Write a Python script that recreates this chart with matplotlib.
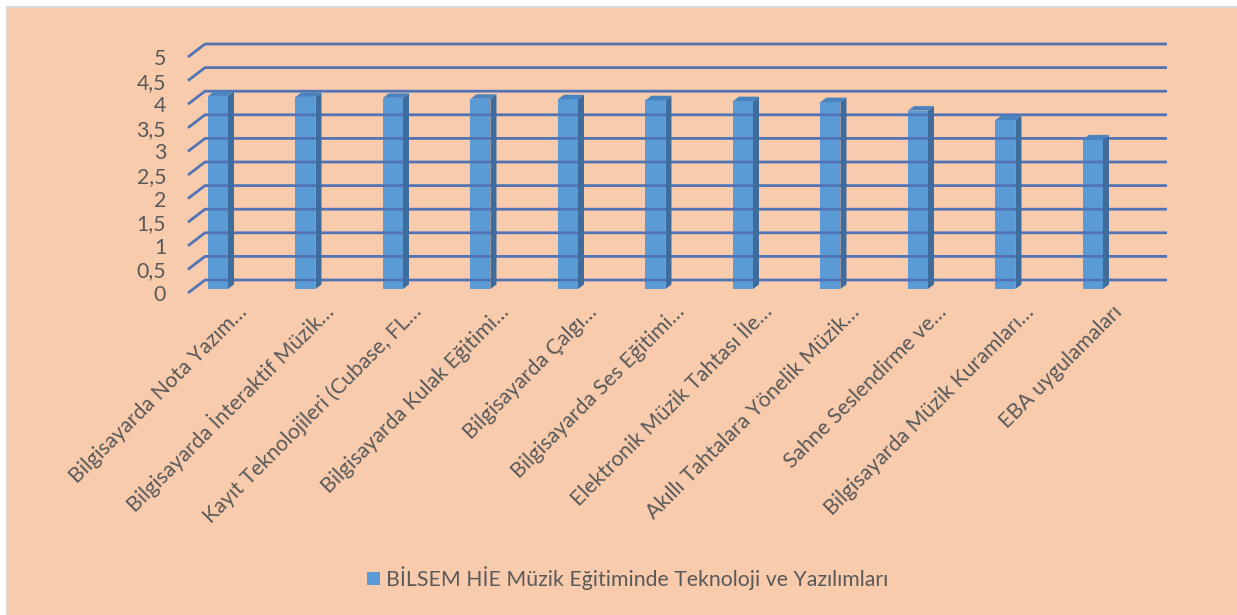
import numpy as np
import matplotlib
matplotlib.use('Agg')
import matplotlib.pyplot as plt
from matplotlib.patches import Rectangle, Polygon
from matplotlib.lines import Line2D
from matplotlib.transforms import ScaledTranslation, IdentityTransform

# Data
categories = [
    'Bilgisayarda Nota Yazım…',
    'Bilgisayarda İnteraktif Müzik…',
    'Kayıt Teknolojileri (Cubase, FL…',
    'Bilgisayarda Kulak Eğitimi…',
    'Bilgisayarda Çalgı…',
    'Bilgisayarda Ses Eğitimi…',
    'Elektronik Müzik Tahtası İle…',
    'Akıllı Tahtalara Yönelik Müzik…',
    'Sahne Seslendirme ve…',
    'Bilgisayarda Müzik Kuramları…',
    'EBA uygulamaları',
]
values = [4.09, 4.07, 4.05, 4.03, 4.02, 4.00, 3.98, 3.96, 3.78, 3.58, 3.17]
y_ticks = [0, 0.5, 1, 1.5, 2, 2.5, 3, 3.5, 4, 4.5, 5]
y_tick_labels = ['0', '0,5', '1', '1,5', '2', '2,5', '3', '3,5', '4', '4,5', '5']
series_name = 'BİLSEM HİE Müzik Eğitiminde Teknoloji ve Yazılımları'

# Colours
bg = '#F8CBAD'
grid_col = '#5274B5'
bar_front = '#5B9BD5'
bar_side = '#3E6C9C'
bar_top = '#4A84C0'
text_col = '#595959'

W, H, DPI = 1237, 615, 100
plt.rcParams['font.family'] = ['Lato', 'DejaVu Sans']
fs = 15.3

fig = plt.figure(figsize=(W / DPI, H / DPI), dpi=DPI, facecolor='white')
fig.add_artist(Rectangle((7 / W, -0.01), 1.0, (H - 7) / H + 0.01, transform=fig.transFigure,
                         facecolor=bg, edgecolor='#D9D9D9', lw=1.5, zorder=0))

# front plane of the 3D box
ax = fig.add_axes([188 / W, (H - 293) / H, 962 / W, 236 / H])
ax.set_facecolor('none')
ax.set_xlim(-0.2857, 10.709)
ax.set_ylim(0, 5)
for s in ax.spines.values():
    s.set_visible(False)
ax.set_xticks([])
ax.set_yticks(y_ticks, y_tick_labels)
ax.tick_params(axis='y', length=0, pad=15.8, labelsize=fs, labelcolor=text_col)

depth = np.array([17, 13])      # front plane -> back wall, in px
bar_off = np.array([5, 4])      # front plane -> bar front face
bar_depth = np.array([6, 4.5])  # bar thickness in depth


def px(x, y):
    return ax.transData.transform((x, y))


ident = IdentityTransform()
x0, x1 = ax.get_xlim()

# gridlines: back wall plus left side wall diagonals
for t in y_ticks:
    fl = px(x0, t)
    bl = fl + depth
    br = px(x1, t) + depth
    fig.add_artist(Line2D([fl[0], bl[0], br[0]], [fl[1], bl[1], br[1]], transform=ident,
                          color=grid_col, lw=2.0, zorder=1, solid_capstyle='butt'))

# bars
x = np.arange(len(categories))
bw = 20 / 87.5
off = ScaledTranslation(bar_off[0] / DPI, bar_off[1] / DPI, fig.dpi_scale_trans)
bars = ax.bar(x, values, width=bw, color=bar_front, transform=ax.transData + off, zorder=3,
              label=series_name)
for xi, v in zip(x, values):
    l0 = px(xi - bw / 2, v) + bar_off
    r0 = px(xi + bw / 2, 0) + bar_off
    r1 = px(xi + bw / 2, v) + bar_off
    side = [r0, r1, r1 + bar_depth, r0 + bar_depth]
    top = [l0, r1, r1 + bar_depth, l0 + bar_depth]
    fig.add_artist(Polygon(side, closed=True, transform=ident, facecolor=bar_side, edgecolor='none', zorder=2))
    fig.add_artist(Polygon(top, closed=True, transform=ident, facecolor=bar_top, edgecolor='none', zorder=2))

# category labels, rotated 45 degrees
lab_off = ScaledTranslation(35 / DPI, -20 / DPI, fig.dpi_scale_trans)
for xi, name in zip(x, categories):
    ax.text(xi, 0, name, rotation=45, ha='right', va='baseline', rotation_mode='anchor',
            transform=ax.transData + lab_off, fontsize=fs, color=text_col)

fig.legend(handles=[bars], labels=[series_name], loc='center',
           bbox_to_anchor=(628 / W, 1 - 578 / H), frameon=False, fontsize=fs,
           labelcolor=text_col, handlelength=0.6, handleheight=0.6, handletextpad=0.3)

fig.savefig('out.png', dpi=DPI, facecolor='white')
